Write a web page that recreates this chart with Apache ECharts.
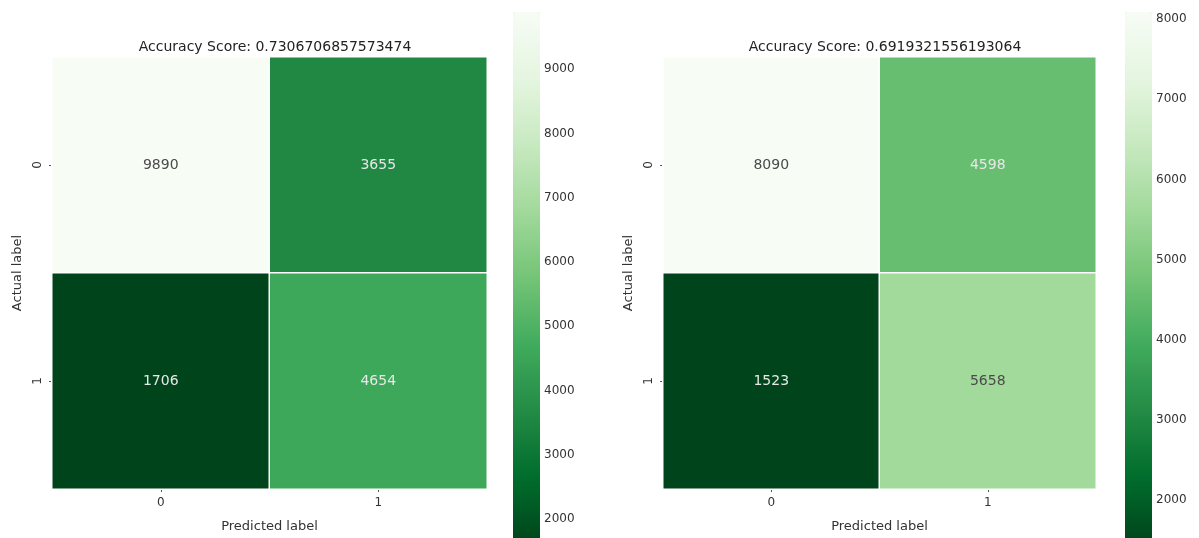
<!DOCTYPE html>
<html>
<head>
<meta charset="utf-8">
<script src="https://cdn.jsdelivr.net/npm/echarts@6/dist/echarts.min.js"></script>
<style>
  html, body { margin: 0; padding: 0; background: #fff; }
  #main { width: 1199px; height: 538px; }
</style>
</head>
<body>
<div id="main"></div>
<script>
// class labels
const predictedLabels = ['0', '1']
const actualLabels = ['0', '1']

// confusion matrices, rows = actual, cols = predicted
const leftMatrix = [[9890, 3655], [1706, 4654]]
const rightMatrix = [[8090, 4598], [1523, 5658]]

const leftScore = 'Accuracy Score: 0.7306706857573474'
const rightScore = 'Accuracy Score: 0.6919321556193064'

// colorbar ticks
const leftTicks = [2000, 3000, 4000, 5000, 6000, 7000, 8000, 9000]
const rightTicks = [2000, 3000, 4000, 5000, 6000, 7000, 8000]

const greens = ['#00441b', '#006d2c', '#238b45', '#41ab5d', '#74c476', '#a1d99b', '#c7e9c0', '#e5f5e0', '#f7fcf5']
const font = 'DejaVu Sans'

const toData = (matrix) => {
  const flat = matrix.flat()
  const lo = Math.min(...flat)
  const hi = Math.max(...flat)
  const out = []
  matrix.forEach((row, r) => {
    row.forEach((v, c) => {
      const t = (v - lo) / (hi - lo)
      out.push({
        value: [c, r, v],
        label: { color: t > 0.55 ? '#4a4a4a' : '#e8e8e8' }
      })
    })
  })
  return out
}

const range = (matrix) => {
  const flat = matrix.flat()
  return [Math.min(...flat), Math.max(...flat)]
}

const [lMin, lMax] = range(leftMatrix)
const [rMin, rMax] = range(rightMatrix)

const heatGrids = [
  { left: 52, top: 57, width: 435, height: 433 },
  { left: 663, top: 57, width: 433, height: 433 }
]
const barGrids = [
  { left: 513, top: 12, width: 27, height: 532 },
  { left: 1125, top: 12, width: 27, height: 532 }
]

const catX = (i) => ({
  type: 'category',
  gridIndex: i,
  data: predictedLabels,
  name: 'Predicted label',
  nameLocation: 'middle',
  nameGap: 31,
  nameTextStyle: { fontFamily: font, fontSize: 13, color: '#333' },
  axisLine: { show: false },
  axisTick: { show: true, alignWithLabel: true, length: 3, lineStyle: { color: '#555' } },
  axisLabel: { fontFamily: font, fontSize: 12, color: '#333', margin: 8 },
  splitArea: { show: false }
})

const catY = (i) => ({
  type: 'category',
  gridIndex: i,
  data: actualLabels,
  inverse: true,
  name: 'Actual label',
  nameLocation: 'middle',
  nameGap: 28,
  nameRotate: 90,
  nameTextStyle: { fontFamily: font, fontSize: 13, color: '#333' },
  axisLine: { show: false },
  axisTick: { show: true, alignWithLabel: true, length: 3, lineStyle: { color: '#555' } },
  axisLabel: { fontFamily: font, fontSize: 12, color: '#333', rotate: 90, margin: 8 }
})

const barY = (i, min, max, ticks) => ({
  type: 'value',
  gridIndex: i,
  min: min,
  max: max,
  position: 'right',
  axisLine: { show: false },
  splitLine: { show: false },
  axisTick: { show: true, length: 3, customValues: ticks, lineStyle: { color: '#555' } },
  axisLabel: {
    fontFamily: font, fontSize: 12, color: '#333', margin: 4, customValues: ticks,
    formatter: (v) => String(v)
  }
})

const barX = (i) => ({ type: 'value', gridIndex: i, show: false })

const myChart = echarts.init(document.getElementById('main'))

const option = {
  animation: false,
  title: [
    { text: leftScore, left: 270, top: 35, textAlign: 'center',
      textStyle: { fontFamily: font, fontSize: 14, fontWeight: 'normal', color: '#222' } },
    { text: rightScore, left: 880, top: 35, textAlign: 'center',
      textStyle: { fontFamily: font, fontSize: 14, fontWeight: 'normal', color: '#222' } }
  ],
  grid: [
    { ...heatGrids[0], show: true, borderColor: '#d0d0d0', borderWidth: 1, borderType: 'dotted' },
    { ...heatGrids[1], show: true, borderColor: '#c0c0c0', borderWidth: 1, borderType: 'dotted' },
    barGrids[0],
    barGrids[1]
  ],
  xAxis: [catX(0), catX(1), barX(2), barX(3)],
  yAxis: [catY(0), catY(1), barY(2, lMin, lMax, leftTicks), barY(3, rMin, rMax, rightTicks)],
  visualMap: [
    {
      type: 'continuous',
      seriesIndex: 0,
      min: lMin,
      max: lMax,
      calculable: false,
      left: barGrids[0].left,
      top: barGrids[0].top,
      itemWidth: barGrids[0].width,
      itemHeight: barGrids[0].height,
      padding: 0,
      inRange: { color: greens }
    },
    {
      type: 'continuous',
      seriesIndex: 1,
      min: rMin,
      max: rMax,
      calculable: false,
      left: barGrids[1].left,
      top: barGrids[1].top,
      itemWidth: barGrids[1].width,
      itemHeight: barGrids[1].height,
      padding: 0,
      inRange: { color: greens }
    }
  ],
  series: [
    {
      type: 'heatmap',
      xAxisIndex: 0,
      yAxisIndex: 0,
      data: toData(leftMatrix),
      label: { show: true, fontFamily: font, fontSize: 14 },
      itemStyle: { borderColor: '#fff', borderWidth: 1.5 },
      emphasis: { disabled: true }
    },
    {
      type: 'heatmap',
      xAxisIndex: 1,
      yAxisIndex: 1,
      data: toData(rightMatrix),
      label: { show: true, fontFamily: font, fontSize: 14 },
      itemStyle: { borderColor: '#fff', borderWidth: 1.5 },
      emphasis: { disabled: true }
    }
  ]
}

option && myChart.setOption(option)

window.addEventListener('resize', function () {
  myChart.resize()
})
</script>
</body>
</html>
